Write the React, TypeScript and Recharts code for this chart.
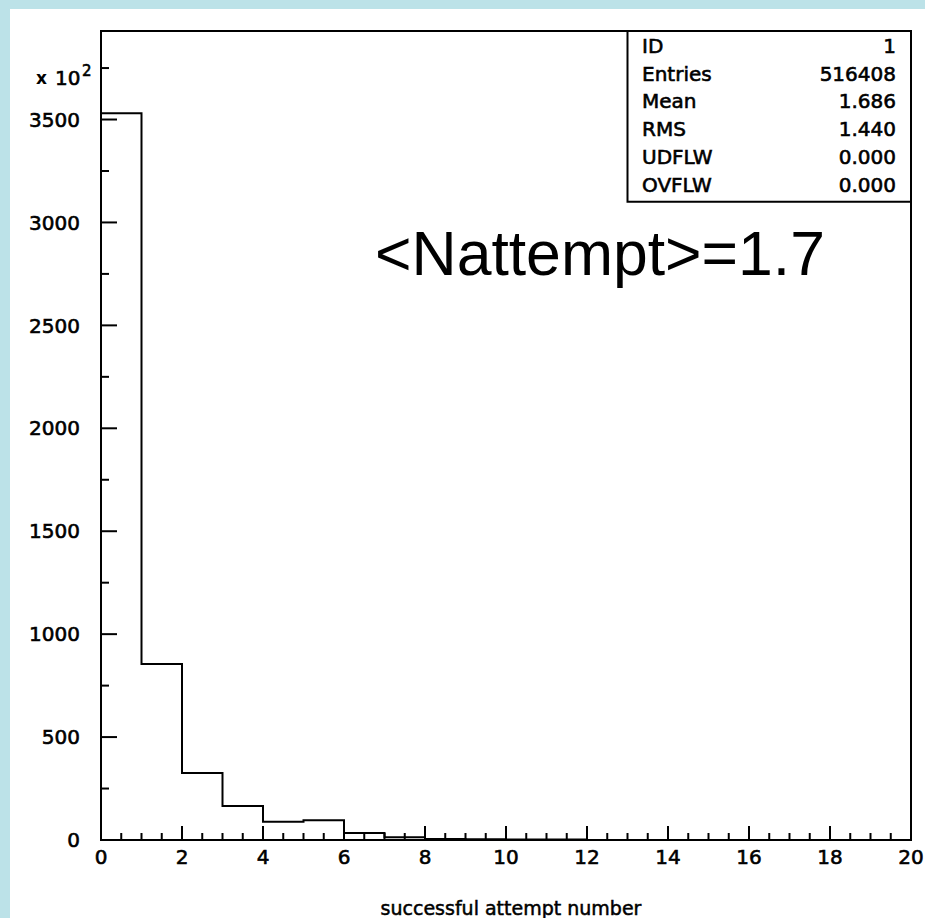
import React from 'react'
import { ComposedChart, Line, XAxis, YAxis, ReferenceArea } from 'recharts'

// histogram bin edges and contents (units of 10^2), last value closes the step
const binEdges = [0, 1, 2, 3, 4, 5, 6, 7, 8, 9, 10, 11, 12, 13, 14, 15, 16, 17, 18, 19, 20]
const binCounts = [3530, 855, 325, 165, 89, 96, 34, 13, 5, 4, 3, 2, 0, 0, 0, 0, 0, 0, 0, 0, 0]

const xMajorTicks = [0, 2, 4, 6, 8, 10, 12, 14, 16, 18, 20]
const yMajorTicks = [0, 500, 1000, 1500, 2000, 2500, 3000, 3500]

const statLabels = ['ID', 'Entries', 'Mean', 'RMS', 'UDFLW', 'OVFLW']
const statValues = ['1', '516408', '1.686', '1.440', '0.000', '0.000']

const xTicks = Array.from({ length: 41 }, (_, i) => i * 0.5)
const yTicks = Array.from({ length: 16 }, (_, i) => i * 250)

const data = binEdges.map((x, i) => ({ x, count: binCounts[i] }))

const FONT = '"DejaVu Sans", sans-serif'
// slight outline so the small labels look as heavy as the original bitmap font
const heavy = { stroke: '#000', strokeWidth: 0.6 }

function XTick(props: any) {
  const { x, y, payload } = props
  const v = payload.value
  const major = xMajorTicks.includes(v)
  return (
    <g>
      <line x1={x} x2={x} y1={y} y2={y - (major ? 14 : 7)} stroke="#000" strokeWidth={2} />
      {major && (
        <text x={x} y={y + 17} dy="0.35em" textAnchor="middle" fontFamily={FONT} fontSize={20} fill="#000" {...heavy}>
          {v}
        </text>
      )}
    </g>
  )
}

function YTick(props: any) {
  const { x, y, payload } = props
  const v = payload.value
  const major = yMajorTicks.includes(v)
  return (
    <g>
      <line x1={x} x2={x + (major ? 16 : 8)} y1={y} y2={y} stroke="#000" strokeWidth={2} />
      {major && (
        <text x={80} y={y} dy="0.36em" textAnchor="end" fontFamily={FONT} fontSize={20} fill="#000" {...heavy}>
          {v}
        </text>
      )}
    </g>
  )
}

export default function App() {
  return (
    <div style={{ position: 'absolute', left: 0, top: 0, width: 925, height: 918, background: '#bce2e8', overflow: 'hidden' }}>
      <div style={{ position: 'absolute', left: 10, top: 9, width: 915, height: 909, background: '#fff' }} />
      <div style={{ position: 'absolute', left: 0, top: 0 }}>
        <ComposedChart width={925} height={918} data={data} margin={{ top: 31, right: 14, bottom: 0, left: 0 }}>
          <XAxis
            dataKey="x"
            type="number"
            domain={[0, 20]}
            ticks={xTicks}
            interval={0}
            tickSize={0}
            tickMargin={0}
            tickLine={false}
            axisLine={{ stroke: '#000', strokeWidth: 2 }}
            tick={<XTick />}
            height={78}
            label={{ value: 'successful attempt number', position: 'insideBottom', offset: 3, dx: 5, fontFamily: FONT, fontSize: 19, fill: '#000', stroke: '#000', strokeWidth: 0.5 }}
          />
          <YAxis
            type="number"
            domain={[0, 3930]}
            allowDataOverflow
            ticks={yTicks}
            interval={0}
            tickSize={0}
            tickMargin={0}
            tickLine={false}
            axisLine={{ stroke: '#000', strokeWidth: 2 }}
            tick={<YTick />}
            width={101}
          />
          <ReferenceArea x1={0} x2={20} y1={0} y2={3930} fill="none" stroke="#000" strokeWidth={2} ifOverflow="visible" />
          <ReferenceArea x1={13} x2={20} y1={3100} y2={3930} fill="#fff" fillOpacity={1} stroke="#000" strokeWidth={2} ifOverflow="visible" />
          <Line type="stepAfter" dataKey="count" stroke="#000" strokeWidth={2} dot={false} isAnimationActive={false} />
        </ComposedChart>
      </div>
      <svg width={925} height={918} style={{ position: 'absolute', left: 0, top: 0, pointerEvents: 'none' }}>
        <text x={36} y={84} fontFamily={FONT} fontSize={17} fontWeight="bold" fill="#000">x</text>
        <text x={55} y={85} fontFamily={FONT} fontSize={20} fill="#000" {...heavy}>10</text>
        <text x={82} y={76} fontFamily={FONT} fontSize={15} fill="#000" {...heavy}>2</text>
        {statLabels.map((s, i) => (
          <text key={s} x={642} y={53 + i * 27.7} fontFamily={FONT} fontSize={20} fill="#000" {...heavy}>{s}</text>
        ))}
        {statValues.map((s, i) => (
          <text key={i} x={896} y={53 + i * 27.7} textAnchor="end" fontFamily={FONT} fontSize={20} fill="#000" {...heavy}>{s}</text>
        ))}
        <text x={375} y={275} fontFamily='"Liberation Sans", Arial, sans-serif' fontSize={62.5} fill="#000">&lt;Nattempt&gt;=1.7</text>
      </svg>
    </div>
  )
}
